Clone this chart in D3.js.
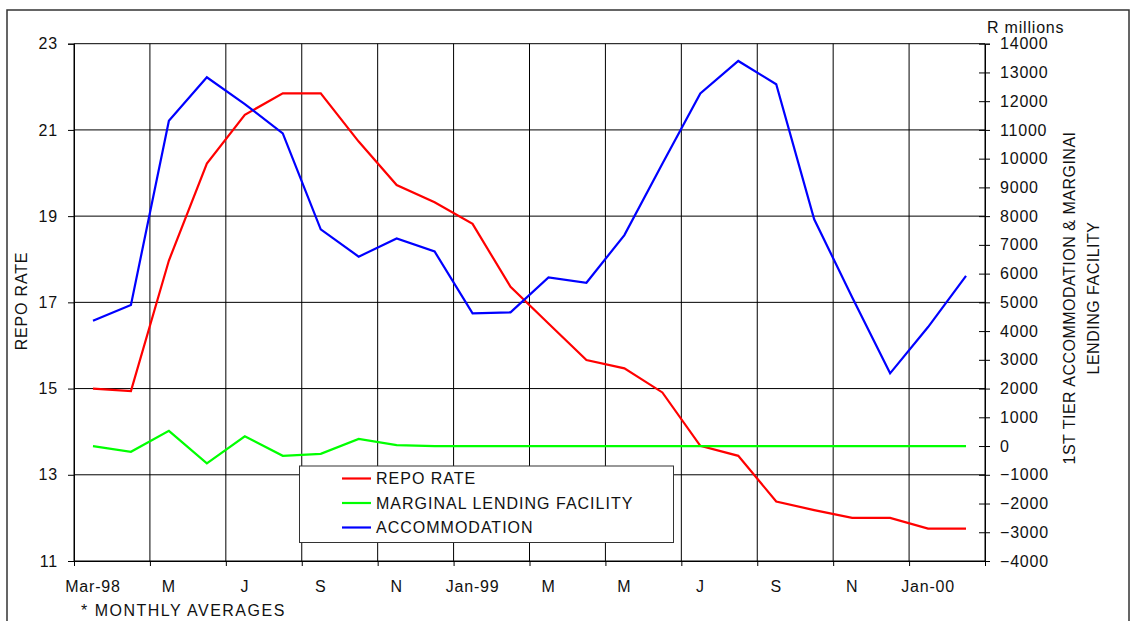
<!DOCTYPE html>
<html><head><meta charset="utf-8">
<script src="https://cdn.jsdelivr.net/npm/d3@7/dist/d3.min.js"></script>
<style>
html,body{margin:0;padding:0;background:#fff;}
svg text{font-family:"Liberation Sans",Arial,sans-serif;font-size:16px;fill:#111;letter-spacing:0.8px;}
</style>
</head><body>
<svg id="chart" width="1130" height="621"></svg>
<script>
// ---- data ----
const months = ["Mar-98","Apr-98","May-98","Jun-98","Jul-98","Aug-98","Sep-98","Oct-98","Nov-98","Dec-98",
  "Jan-99","Feb-99","Mar-99","Apr-99","May-99","Jun-99","Jul-99","Aug-99","Sep-99","Oct-99","Nov-99","Dec-99",
  "Jan-00","Feb-00"];
const tickLabels = ["Mar-98","M","J","S","N","Jan-99","M","M","J","S","N","Jan-00"];
const repoRate = [15.0,14.94,17.97,20.22,21.35,21.85,21.85,20.73,19.72,19.32,18.82,17.36,
  16.51,15.66,15.47,14.91,13.67,13.44,12.38,12.18,12.0,12.0,11.75,11.75];
const marginalLending = [0,-200,530,-600,340,-340,-270,250,30,0,0,0,0,0,0,0,0,0,0,0,0,0,0,0];
const accommodation = [4360,4910,11320,12830,11900,10880,7540,6590,7220,6770,4620,4650,
  5870,5680,7340,9820,12270,13400,12590,7890,5180,2530,4140,5920];
const leftTicks = [11,13,15,17,19,21,23];
const rightTicks = [-4000,-3000,-2000,-1000,0,1000,2000,3000,4000,5000,6000,7000,8000,9000,10000,11000,12000,13000,14000];
const seriesNames = ["REPO RATE","MARGINAL LENDING FACILITY","ACCOMMODATION"];
const seriesColors = ["#ff0000","#00ff00","#0000ff"];

// ---- layout ----
const L = 74, R = 985, T = 43.7, B = 561;
const svg = d3.select("#chart");

// frame
svg.append("rect").attr("x",7).attr("y",10).attr("width",1122).attr("height",700)
  .attr("fill","none").attr("stroke","#333").attr("stroke-width",1.5);

const x = d3.scaleBand().domain(months).range([L,R]).paddingInner(0).paddingOuter(0);
const xc = m => x(m) + x.bandwidth()/2;
const xi = d3.scaleLinear().domain([0,months.length]).range([L,R]);
const yL = d3.scaleLinear().domain([11,23]).range([B,T]);
const yR = d3.scaleLinear().domain([-4000,14000]).range([B,T]);

// gridlines
const g = svg.append("g");
const vIdx = d3.range(0, months.length+1, 2);
g.selectAll("line.v").data(vIdx).join("line")
  .attr("x1",d=>xi(d)).attr("x2",d=>xi(d)).attr("y1",T).attr("y2",B)
  .attr("stroke","#000").attr("stroke-width",1);
g.selectAll("line.h").data(leftTicks).join("line")
  .attr("x1",L).attr("x2",R).attr("y1",d=>yL(d)).attr("y2",d=>yL(d))
  .attr("stroke","#000").attr("stroke-width",1);

// left axis
const axL = svg.append("g").attr("transform",`translate(${L},0)`)
  .call(d3.axisLeft(yL).tickValues(leftTicks).tickSize(6).tickPadding(10).tickFormat(d3.format("d")));
axL.select(".domain").attr("stroke","#000");
axL.selectAll("text").style("font-size","16px").attr("fill","#111");

// right axis
const axR = svg.append("g").attr("transform",`translate(${R},0)`)
  .call(d3.axisRight(yR).tickValues(rightTicks).tickSize(5).tickPadding(10).tickFormat(d3.format("d")));
axR.select(".domain").attr("stroke","#000");
axR.selectAll(".tick line").attr("x1",-6);
axR.selectAll("text").style("font-size","16px").attr("fill","#111");

// bottom axis
const axB = svg.append("g").attr("transform",`translate(0,${B})`)
  .call(d3.axisBottom(xi).tickValues(vIdx).tickSize(5).tickFormat(""));
axB.select(".domain").attr("stroke","#000");
svg.append("g").selectAll("text").data(tickLabels).join("text")
  .attr("x",(d,i)=>xc(months[i*2])).attr("y",592).attr("text-anchor","middle").text(d=>d);

// axis titles
svg.append("text").attr("transform","translate(21,301) rotate(-90)").attr("dy","0.35em")
  .attr("text-anchor","middle").text("REPO RATE");
svg.append("text").attr("transform","translate(1069,298) rotate(-90)").attr("dy","0.35em")
  .attr("text-anchor","middle").style("letter-spacing","0.5px").text("1ST TIER ACCOMMODATION & MARGINAI");
svg.append("text").attr("transform","translate(1093,298) rotate(-90)").attr("dy","0.35em")
  .attr("text-anchor","middle").style("letter-spacing","0.5px").text("LENDING FACILITY");
svg.append("text").attr("x",987).attr("y",33).text("R millions");
svg.append("text").attr("x",81).attr("y",616).style("letter-spacing","1.5px").text("* MONTHLY AVERAGES");

// series
const lineL = d3.line().x((d,i)=>xc(months[i])).y(d=>yL(d));
const lineR = d3.line().x((d,i)=>xc(months[i])).y(d=>yR(d));
svg.append("path").datum(repoRate).attr("d",lineL).attr("fill","none").attr("stroke",seriesColors[0]).attr("stroke-width",2.2);
svg.append("path").datum(marginalLending).attr("d",lineR).attr("fill","none").attr("stroke",seriesColors[1]).attr("stroke-width",2.2);
svg.append("path").datum(accommodation).attr("d",lineR).attr("fill","none").attr("stroke",seriesColors[2]).attr("stroke-width",2.2);

// legend
const lg = svg.append("g");
lg.append("rect").attr("x",299.5).attr("y",466).attr("width",374).attr("height",76.5)
  .attr("fill","#fff").attr("stroke","#333").attr("stroke-width",1);
const rowsY = [478.5,503,527.5];
seriesNames.forEach((n,i)=>{
  lg.append("line").attr("x1",342).attr("x2",371).attr("y1",rowsY[i]).attr("y2",rowsY[i])
    .attr("stroke",seriesColors[i]).attr("stroke-width",2.2);
  lg.append("text").attr("x",376).attr("y",rowsY[i]).attr("dy","0.35em").style("letter-spacing","1px").text(n);
});
</script>
</body></html>
